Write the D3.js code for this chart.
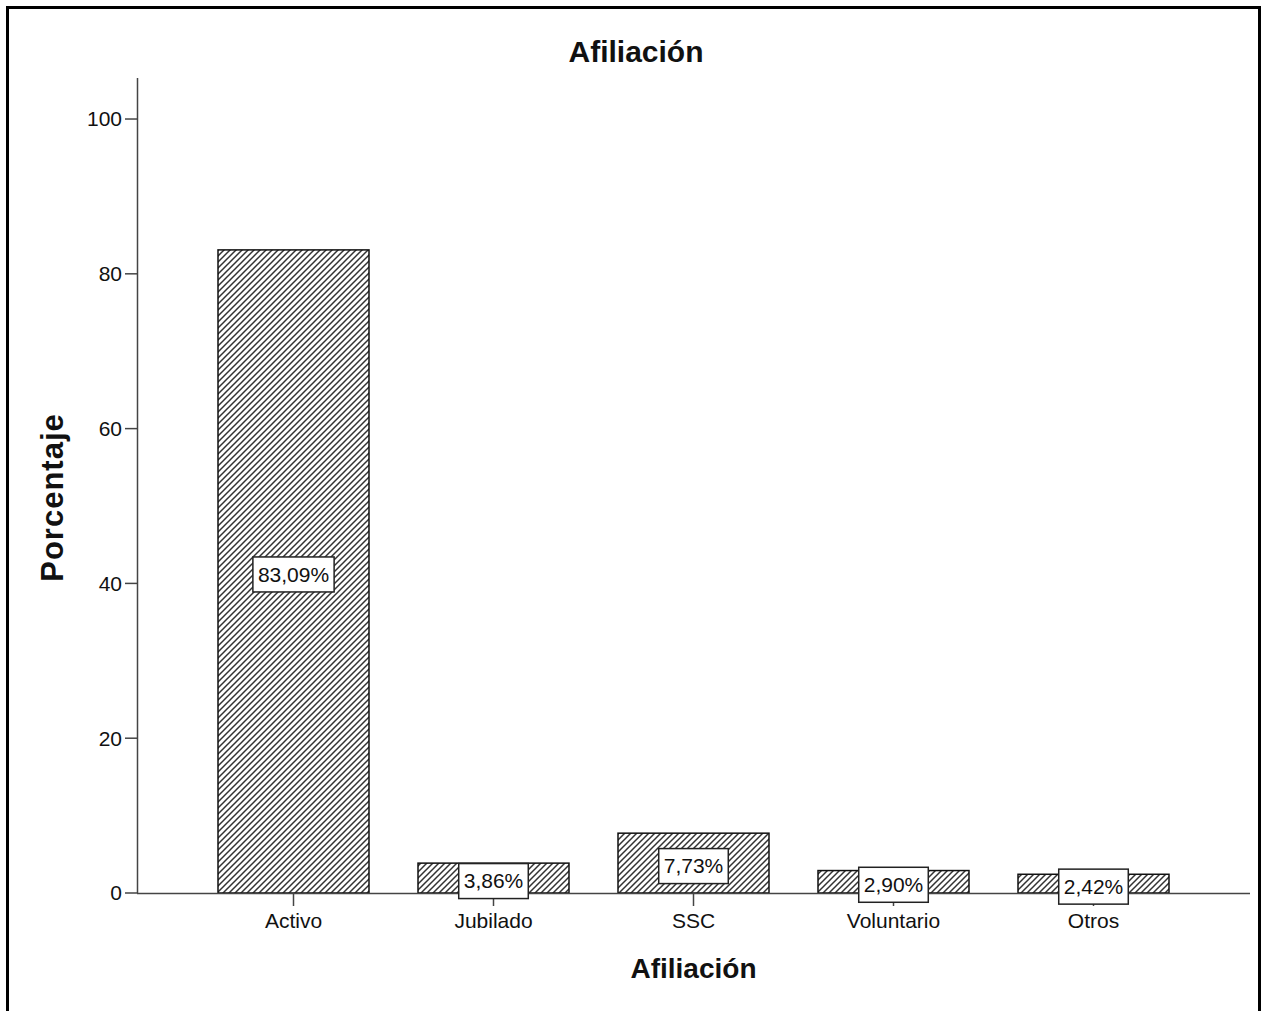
<!DOCTYPE html>
<html>
<head>
<meta charset="utf-8">
<script src="https://cdn.jsdelivr.net/npm/d3@7/dist/d3.min.js"></script>
<style>
html,body{margin:0;padding:0;background:#fff;}
svg{display:block;}
text{font-family:"Liberation Sans",Arial,sans-serif;fill:#111;}
</style>
</head>
<body>
<svg id="chart" width="1267" height="1011"></svg>
<script>
const categories = ["Activo", "Jubilado", "SSC", "Voluntario", "Otros"];
const values = [83.09, 3.86, 7.73, 2.90, 2.42];
const yTicks = [0, 20, 40, 60, 80, 100];
const chartTitle = "Afiliación";
const xTitle = "Afiliación";
const yTitle = "Porcentaje";

const svg = d3.select("#chart");

// hatch pattern
const defs = svg.append("defs");
const pat = defs.append("pattern")
  .attr("id", "hatch")
  .attr("patternUnits", "userSpaceOnUse")
  .attr("width", 6).attr("height", 6);
pat.append("rect").attr("width", 6).attr("height", 6).attr("fill", "#fff");
pat.append("path")
  .attr("d", "M-1,1 L1,-1 M0,6 L6,0 M5,7 L7,5")
  .attr("stroke", "#333").attr("stroke-width", 1.5);

// frame
svg.append("rect")
  .attr("x", 7.5).attr("y", 7.5).attr("width", 1252).attr("height", 1020)
  .attr("fill", "none").attr("stroke", "#000").attr("stroke-width", 3);

const x = d3.scaleBand()
  .domain(categories)
  .range([137, 1250])
  .paddingInner(0.245)
  .paddingOuter(0.405);

const y = d3.scaleLinear()
  .domain([0, 105.3])
  .range([893, 78]);

// bars
svg.selectAll("rect.bar")
  .data(values)
  .enter().append("rect")
  .attr("class", "bar")
  .attr("x", (d, i) => x(categories[i]))
  .attr("y", d => y(d))
  .attr("width", x.bandwidth())
  .attr("height", d => y(0) - y(d))
  .attr("fill", "url(#hatch)")
  .attr("stroke", "#111")
  .attr("stroke-width", 1.5);

// y axis
const yAxis = svg.append("g");
yAxis.append("line")
  .attr("x1", 137.5).attr("x2", 137.5)
  .attr("y1", y.range()[1]).attr("y2", y(0))
  .attr("stroke", "#444").attr("stroke-width", 1.5);
yTicks.forEach(t => {
  yAxis.append("line")
    .attr("x1", 125).attr("x2", 137.5)
    .attr("y1", y(t)).attr("y2", y(t))
    .attr("stroke", "#444").attr("stroke-width", 1.5);
  yAxis.append("text")
    .attr("x", 122).attr("y", y(t))
    .attr("dy", "0.35em")
    .attr("text-anchor", "end")
    .attr("font-size", 21)
    .text(t);
});

// x axis
const xAxis = svg.append("g");
xAxis.append("line")
  .attr("x1", 137).attr("x2", 1250)
  .attr("y1", y(0) + 0.5).attr("y2", y(0) + 0.5)
  .attr("stroke", "#444").attr("stroke-width", 1.5);
categories.forEach(c => {
  const cx = x(c) + x.bandwidth() / 2;
  xAxis.append("line")
    .attr("x1", cx).attr("x2", cx)
    .attr("y1", y(0)).attr("y2", y(0) + 13)
    .attr("stroke", "#444").attr("stroke-width", 1.5);
  xAxis.append("text")
    .attr("x", cx).attr("y", 928)
    .attr("text-anchor", "middle")
    .attr("font-size", 21)
    .text(c);
});

// value labels
const fmt = v => d3.format(".2f")(v).replace(".", ",") + "%";
values.forEach((v, i) => {
  const cx = x(categories[i]) + x.bandwidth() / 2;
  const cy = (y(v) + y(0)) / 2 + 3;
  const g = svg.append("g");
  const t = g.append("text")
    .attr("x", cx).attr("y", cy)
    .attr("dy", "0.35em")
    .attr("text-anchor", "middle")
    .attr("font-size", 21)
    .text(fmt(v));
  const bb = t.node().getBBox();
  g.insert("rect", "text")
    .attr("x", bb.x - 5).attr("y", cy - 17.5)
    .attr("width", bb.width + 10).attr("height", 35)
    .attr("fill", "#fff").attr("stroke", "#222").attr("stroke-width", 1.5);
});

// titles
svg.append("text")
  .attr("x", 636).attr("y", 62)
  .attr("text-anchor", "middle")
  .attr("font-size", 30).attr("font-weight", "bold")
  .text(chartTitle);

svg.append("text")
  .attr("x", 693.5).attr("y", 978)
  .attr("text-anchor", "middle")
  .attr("font-size", 28).attr("font-weight", "bold")
  .text(xTitle);

svg.append("text")
  .attr("transform", "translate(63,497.5) rotate(-90)")
  .attr("text-anchor", "middle")
  .attr("font-size", 31).attr("font-weight", "bold")
  .attr("letter-spacing", 1)
  .text(yTitle);
</script>
</body>
</html>
